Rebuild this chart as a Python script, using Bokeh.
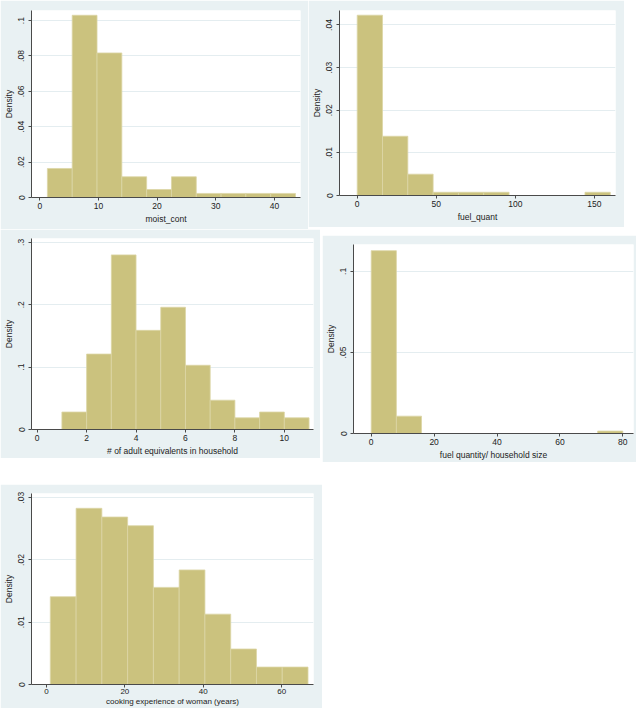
from bokeh.plotting import figure
from bokeh.layouts import column, row
from bokeh.models import Range1d, FixedTicker, CustomJSTickFormatter
from bokeh.embed import file_html
from bokeh.resources import INLINE

# ---------------- data ----------------
moist_edges = [1.3, 5.53, 9.76, 13.99, 18.22, 22.45, 26.68, 30.91, 35.14, 39.37, 43.6]
moist_density = [0.0164, 0.103, 0.0817, 0.0117, 0.0045, 0.0117, 0.0023, 0.0023, 0.0023, 0.0023]
moist_xticks = [0, 10, 20, 30, 40]
moist_yticks = [0, 0.02, 0.04, 0.06, 0.08, 0.1]

fuel_edges = [0, 16, 32, 48, 64, 80, 96, 112, 128, 144, 160]
fuel_density = [0.0423, 0.0139, 0.0050, 0.00076, 0.00076, 0.00076, 0, 0, 0, 0.00076]
fuel_xticks = [0, 50, 100, 150]
fuel_yticks = [0, 0.01, 0.02, 0.03, 0.04]

adult_edges = [1, 2, 3, 4, 5, 6, 7, 8, 9, 10, 11]
adult_density = [0.028, 0.121, 0.280, 0.159, 0.196, 0.103, 0.047, 0.0187, 0.028, 0.0187]
adult_xticks = [0, 2, 4, 6, 8, 10]
adult_yticks = [0, 0.1, 0.2, 0.3]

fpc_edges = [0, 8, 16, 24, 32, 40, 48, 56, 64, 72, 80]
fpc_density = [0.1128, 0.0107, 0, 0, 0, 0, 0, 0, 0, 0.0015]
fpc_xticks = [0, 20, 40, 60, 80]
fpc_yticks = [0, 0.05, 0.1]

cook_edges = [1, 7.57, 14.14, 20.71, 27.28, 33.85, 40.42, 46.99, 53.56, 60.13, 66.7]
cook_density = [0.0141, 0.0283, 0.0269, 0.0255, 0.0156, 0.0184, 0.0113, 0.0057, 0.0028, 0.0028]
cook_xticks = [0, 20, 40, 60]
cook_yticks = [0, 0.01, 0.02, 0.03]

# ---------------- styling ----------------
BG = "#E9F1F3"
BAR = "#CBC27E"
BAR_LINE = "#DCD5A6"
AXIS = "#4a4a4a"
TEXT = "#222222"
FONT = "Liberation Sans"
FS = "8.5px"

yfmt_code = """
if (tick === 0) { return "0"; }
var s = String(Number(tick.toPrecision(6)));
return s.replace(/^0\\./, ".");
"""


def panel(edges, dens, xlabel, xticks, yticks, xr, yr, w, h, borders, margin, tight_x=False):
    p = figure(width=w, height=h, output_backend="svg", toolbar_location=None,
               x_range=Range1d(*xr), y_range=Range1d(*yr),
               min_border_left=borders[0], min_border_right=borders[1],
               min_border_top=borders[2], min_border_bottom=borders[3],
               border_fill_color=BG, background_fill_color="white",
               outline_line_color=None, margin=margin)
    p.quad(left=edges[:-1], right=edges[1:], bottom=0, top=dens,
           fill_color=BAR, line_color=BAR_LINE, line_width=0.8)
    p.xgrid.visible = False
    p.ygrid.ticker = FixedTicker(ticks=yticks)
    p.ygrid.grid_line_color = "#E4EDF0"
    p.ygrid.grid_line_width = 1

    p.xaxis.ticker = FixedTicker(ticks=xticks)
    p.yaxis.ticker = FixedTicker(ticks=yticks)
    p.yaxis.formatter = CustomJSTickFormatter(code=yfmt_code)
    p.yaxis.major_label_orientation = "vertical"
    p.yaxis.axis_label = "Density"
    p.xaxis.axis_label = xlabel
    for ax in (p.xaxis, p.yaxis):
        ax.axis_line_color = AXIS
        ax.axis_line_width = 1
        ax.major_tick_line_color = AXIS
        ax.major_tick_out = 3
        ax.major_tick_in = 0
        ax.minor_tick_line_color = None
        ax.major_label_text_font = FONT
        ax.major_label_text_font_size = FS
        ax.major_label_text_color = TEXT
        ax.axis_label_text_font = FONT
        ax.axis_label_text_font_size = FS
        ax.axis_label_text_font_style = "normal"
        ax.axis_label_text_color = TEXT
        ax.major_label_standoff = 2
        ax.axis_label_standoff = 2
    p.yaxis.major_label_standoff = 4
    if tight_x:
        p.xaxis.major_label_standoff = 1
        p.xaxis.axis_label_standoff = 0
        p.xaxis.major_label_text_font_size = "8px"
        p.xaxis.axis_label_text_font_size = "8px"
    return p


p1 = panel(moist_edges, moist_density, "moist_cont", moist_xticks, moist_yticks,
           (-1.41, 44.45), (0, 0.1057), 308, 229, (30, 8, 10, 32), (0, 0, 0, 0))
p2 = panel(fuel_edges, fuel_density, "fuel_quant", fuel_xticks, fuel_yticks,
           (-11.2, 163.3), (0, 0.0434), 316, 227, (31, 9, 7, 30), (0, 0, 0, 0))
p3 = panel(adult_edges, adult_density, "# of adult equivalents in household", adult_xticks, adult_yticks,
           (-0.23, 11.18), (0, 0.3063), 320, 229, (30, 7, 8, 27), (0, 0, 0, 0))
p4 = panel(fpc_edges, fpc_density, "fuel quantity/ household size", fpc_xticks, fpc_yticks,
           (-5.63, 83.4), (0, 0.1166), 314, 227, (31, 3, 9, 29), (6, 0, 0, 2))
p5 = panel(cook_edges, cook_density, "cooking experience of woman (years)", cook_xticks, cook_yticks,
           (-3.8, 68.1), (0, 0.03068), 322, 224, (29, 9, 9, 20), (22, 0, 0, 0),
           tight_x=True)

layout = column(row(p1, p2), row(p3, p4), p5)
layout.spacing = 0

open("out.html", "w").write(file_html(layout, INLINE))
